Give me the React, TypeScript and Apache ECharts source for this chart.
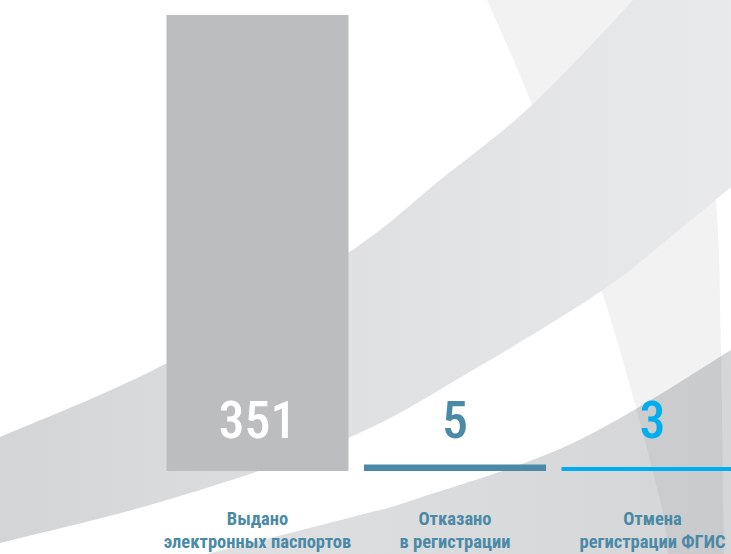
import React, { useEffect, useRef } from "react";
import * as echarts from "echarts";

const categories = ["Выдано\nэлектронных паспортов", "Отказано\nв регистрации", "Отмена\nрегистрации ФГИС"];
const values = [351, 5, 3];
const barColors = ["#bcbdbf", "#4a8aa6", "#00aeef"];
const valueLabelColors = ["#ffffff", "#4a8aa6", "#00aeef"];

type Pt = [number, number];

function crPath(pts: Pt[], start: boolean): string {
  let d = (start ? "M" : "L") + pts[0][0] + " " + pts[0][1];
  for (let i = 0; i < pts.length - 1; i++) {
    const p0 = pts[i - 1] || pts[i];
    const p1 = pts[i];
    const p2 = pts[i + 1];
    const p3 = pts[i + 2] || pts[i + 1];
    const c1x = p1[0] + (p2[0] - p0[0]) / 6;
    const c1y = p1[1] + (p2[1] - p0[1]) / 6;
    const c2x = p2[0] - (p3[0] - p1[0]) / 6;
    const c2y = p2[1] - (p3[1] - p1[1]) / 6;
    d += ` C${c1x} ${c1y} ${c2x} ${c2y} ${p2[0]} ${p2[1]}`;
  }
  return d;
}

const bandAUpper: Pt[] = [[-20, 445], [0, 437], [167, 363], [348, 253], [440, 180], [532, 105], [633, 0], [665, -40]];
const bandALower: Pt[] = [[770, 155], [731, 187], [667, 240], [600, 292], [473, 370], [348, 438], [167, 500], [0, 543], [-20, 548]];
const bandBUpper: Pt[] = [[150, 568], [207, 554], [360, 515], [413, 500], [573, 443], [731, 350], [770, 322]];
const bandCLeft: Pt[] = [[478, -20], [487, 0], [532, 105], [602, 292], [660, 500], [668, 570]];
const bandCRight: Pt[] = [[724, 570], [721, 350], [716, 200], [695, 0], [690, -20]];

const dA = crPath(bandAUpper, true) + " L800 -50 L800 140 " + crPath(bandALower, false) + " Z";
const dB = crPath(bandBUpper, true) + " L800 600 L150 600 Z";
const dC = crPath(bandCLeft, true) + " " + crPath(bandCRight, false) + " Z";

echarts.graphic.registerShape("bandA", echarts.graphic.extendPath(dA, {}) as any);
echarts.graphic.registerShape("bandB", echarts.graphic.extendPath(dB, {}) as any);
echarts.graphic.registerShape("bandC", echarts.graphic.extendPath(dC, {}) as any);

const FONT = "'Roboto Condensed', 'Open Sans', sans-serif";

export default function App() {
  const ref = useRef<HTMLDivElement>(null);
  useEffect(() => {
    document.body.style.margin = "0";
    document.body.style.overflow = "hidden";
    if (!ref.current) return;
    const chart = echarts.init(ref.current, undefined, { renderer: "svg" });
    chart.setOption({
      animation: false,
      backgroundColor: "#ffffff",
      graphic: [
        {
          type: "bandB",
          x: 0,
          y: 0,
          silent: true,
          style: {
            fill: new echarts.graphic.LinearGradient(0, 0, 1, 0, [
              { offset: 0, color: "#e0e1e3" },
              { offset: 1, color: "#d3d4d6" },
            ]),
          },
        },
        {
          type: "bandC",
          x: 0,
          y: 0,
          silent: true,
          style: { fill: "rgba(0,0,0,0.05)" },
        },
        {
          type: "bandA",
          x: 0,
          y: 0,
          silent: true,
          style: {
            fill: new echarts.graphic.LinearGradient(0, 0, 1, 0, [
              { offset: 0, color: "#d3d4d6" },
              { offset: 0.5, color: "#e0e1e3" },
              { offset: 1, color: "#eaebec" },
            ]),
          },
        },
      ],
      grid: {
        left: 158.75,
        width: 592.5,
        top: 15,
        height: 456,
        containLabel: false,
        outerBoundsMode: "none",
      },
      xAxis: {
        type: "category",
        data: categories,
        axisLine: { show: false },
        axisTick: { show: false },
        axisLabel: {
          interval: 0,
          margin: 36,
          color: "#4a8aa6",
          fontFamily: FONT,
          fontWeight: "bold",
          fontSize: 18.5,
          lineHeight: 23,
          hideOverlap: false,
        },
      },
      yAxis: {
        type: "value",
        min: 0,
        max: 351,
        show: false,
        splitLine: { show: false },
      },
      series: [
        {
          type: "bar",
          barWidth: 182,
          data: values.map((v, i) => ({
            value: v,
            itemStyle: { color: barColors[i] },
            label: { color: valueLabelColors[i] },
          })),
          label: {
            show: true,
            position: "insideBottom",
            distance: 25,
            fontFamily: FONT,
            fontSize: 52,
            fontWeight: 500,
          },
        },
      ],
    });
    return () => chart.dispose();
  }, []);
  return <div ref={ref} style={{ width: 731, height: 554 }} />;
}
